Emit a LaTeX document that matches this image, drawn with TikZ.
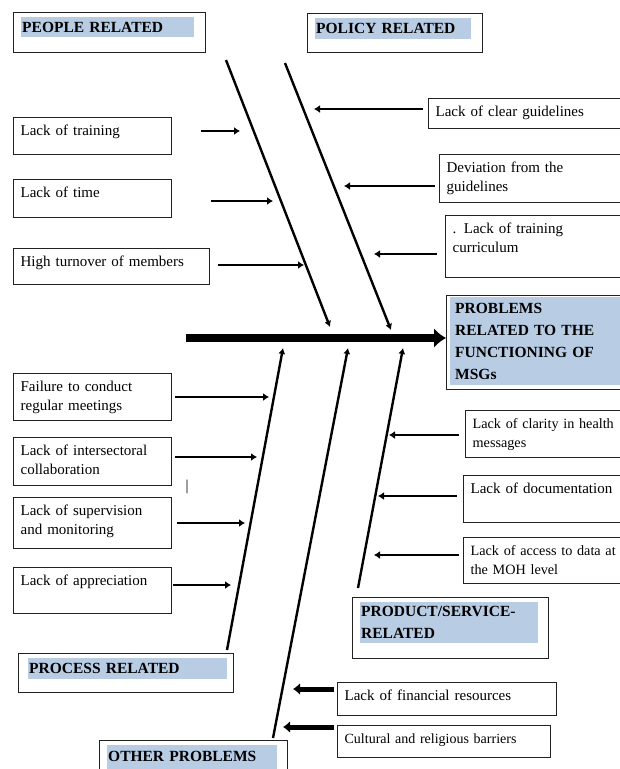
\documentclass[tikz,border=0pt]{standalone}
\usepackage{fontspec}
\setmainfont{Liberation Serif}
\usetikzlibrary{arrows.meta}
\usepackage{xcolor}
\definecolor{hlblue}{HTML}{B8CCE4}
\definecolor{edge}{HTML}{222222}
\newcommand{\causefont}{\fontsize{15}{19.5}\selectfont}
\newcommand{\narrowfont}{\fontsize{14.2}{19.5}\selectfont}
\newcommand{\titlefont}{\fontsize{15.5}{22}\selectfont\bfseries}

\begin{document}
\begin{tikzpicture}[x=1pt,y=-1pt]
		\tikzstyle{title} = [rectangle, draw=edge, line width=1.4pt, anchor=north west, inner sep=0pt]
		\tikzstyle{hl} = [rectangle, fill=hlblue, anchor=north west, align=left, inner xsep=1pt, inner ysep=0pt, font=\titlefont]
		\tikzstyle{cause} = [rectangle, draw=edge, line width=1.3pt, anchor=north west, align=left,
		inner xsep=7pt, inner ysep=7pt, text height=10.5pt, font=\causefont]
		\tikzstyle{arr} = [draw, line width=2.6pt, -{Latex[length=6pt, width=8pt]}]
		\tikzstyle{fatarr} = [draw, line width=5pt, -{Latex[length=7pt, width=12pt]}]
		\tikzstyle{bone} = [draw, line width=2.4pt, -{Latex[length=6pt, width=7pt]}]
		\tikzstyle{spine} = [draw, line width=8pt, -{Latex[length=12pt, width=20pt]}]
		
		\path[use as bounding box, fill=white] (0,0) rectangle (620,769);
		
		% Category titles
		\node [title, minimum width=192, minimum height=40] (people) at (13,12) {};
		\node [hl, text width=171, minimum height=20] (peopleTxt) at (21,17) {PEOPLE RELATED};
		
		\node [title, minimum width=175, minimum height=39] (policy) at (307,13) {};
		\node [hl, text width=154, minimum height=21] (policyTxt) at (315,18) {POLICY RELATED};
		
		\node [title, minimum width=196, minimum height=61] (product) at (352,597) {};
		\node [hl, text width=176, minimum height=41] (productTxt) at (360,602) {PRODUCT/SERVICE-\\RELATED};
		
		\node [title, minimum width=215, minimum height=39] (process) at (18,653) {};
		\node [hl, text width=197, minimum height=21] (processTxt) at (28,658) {PROCESS RELATED};
		
		\node [title, minimum width=188, minimum height=40] (other) at (99,740) {};
		\node [hl, text width=168, minimum height=27, text depth=5pt] (otherTxt) at (107,745) {OTHER PROBLEMS};
		
		% Effect
		\node [title, minimum width=204, minimum height=94] (effect) at (446,295) {};
		\node [hl, text width=185, inner xsep=5pt, minimum height=88] (effectTxt) at (450,297) {PROBLEMS\\RELATED TO THE\\FUNCTIONING OF\\MSGs};
		
		% Causes, left side
		\node [cause, text width=144, text depth=12.5] (training) at (13,117) {Lack of training};
		\node [cause, text width=144, text depth=13.5] (time) at (13,179) {Lack of time};
		\node [cause, text width=182, text depth=11.5] (turnover) at (13,248) {High turnover of members};
		\node [cause, text width=144, text depth=22.5] (meetings) at (13,373) {Failure to conduct\\regular meetings};
		\node [cause, text width=144, text depth=23.5] (intersect) at (13,437) {Lack of intersectoral\\collaboration};
		\node [cause, text width=144, text depth=26.5] (supervision) at (13,497) {Lack of supervision\\and monitoring};
		\node [cause, text width=144, text depth=21.5] (appreciation) at (13,567) {Lack of appreciation};
		\node [font=\causefont, inner sep=0pt] (stray) at (187,487) {|};
		
		% Causes, right side
		\node [cause, text width=208, text depth=5.5] (guidelines) at (428,98) {Lack of clear guidelines};
		\node [cause, text width=197, text depth=23.5] (deviation) at (439,154) {Deviation from the\\guidelines};
		\node [cause, text width=191, text depth=37.5] (curriculum) at (445,215) {. Lack of training\\curriculum};
		\node [cause, text width=171, text depth=22.5, font=\narrowfont] (clarity) at (465,410) {Lack of clarity in health\\messages};
		\node [cause, text width=173, text depth=22.5] (documentation) at (463,475) {Lack of documentation};
		\node [cause, text width=173, text depth=21.5, font=\narrowfont] (access) at (463,537) {Lack of access to data at\\the MOH level};
		\node [cause, text width=205, text depth=8.5] (financial) at (337,682) {Lack of financial resources};
		\node [cause, text width=199, text depth=7.5, font=\fontsize{14}{18}\selectfont] (cultural) at (337,725) {Cultural and religious barriers};
		
		% bones
		\coordinate (peopleA) at (226,60);   \coordinate (peopleB) at (330,327);
		\coordinate (policyA) at (285,63);   \coordinate (policyB) at (391,330);
		\coordinate (processA) at (227,650); \coordinate (processB) at (283,348);
		\coordinate (otherA) at (273,738);   \coordinate (otherB) at (348,348);
		\coordinate (productA) at (358,588); \coordinate (productB) at (403,348);
		\coordinate (tail) at (186,338);
		
		\draw [spine] (tail) -- (tail -| effect.west);
		\draw [bone] (peopleA) -- (peopleB);
		\draw [bone] (policyA) -- (policyB);
		\draw [bone] (processA) -- (processB);
		\draw [bone] (otherA) -- (otherB);
		\draw [bone] (productA) -- (productB);
		
		% arrows
		\coordinate (trainingTip) at (240,131);
		\coordinate (timeTip) at (273,201);
		\coordinate (turnoverTip) at (304,265);
		\coordinate (meetingsTip) at (269,397);
		\coordinate (intersectTip) at (257,457);
		\coordinate (supervisionTip) at (245,523);
		\coordinate (appreciationTip) at (231,585);
		\coordinate (guidelinesTip) at (314,109);
		\coordinate (deviationTip) at (344,186);
		\coordinate (curriculumTip) at (374,254);
		\coordinate (clarityTip) at (389,435);
		\coordinate (documentationTip) at (378,496);
		\coordinate (accessTip) at (374,555);
		\coordinate (financialTip) at (293,689);
		\coordinate (culturalTip) at (283,727);
		
		\draw [arr] ([xshift=29pt]training.east |- trainingTip) -- (trainingTip);
		\draw [arr] ([xshift=39pt]time.east |- timeTip) -- (timeTip);
		\draw [arr] ([xshift=8pt]turnover.east |- turnoverTip) -- (turnoverTip);
		\draw [arr] ([xshift=3pt]meetings.east |- meetingsTip) -- (meetingsTip);
		\draw [arr] ([xshift=3pt]intersect.east |- intersectTip) -- (intersectTip);
		\draw [arr] ([xshift=5pt]supervision.east |- supervisionTip) -- (supervisionTip);
		\draw [arr] ([xshift=1pt]appreciation.east |- appreciationTip) -- (appreciationTip);
		%
		\draw [arr] ([xshift=-5pt]guidelines.west |- guidelinesTip) -- (guidelinesTip);
		\draw [arr] ([xshift=-4pt]deviation.west |- deviationTip) -- (deviationTip);
		\draw [arr] ([xshift=-8pt]curriculum.west |- curriculumTip) -- (curriculumTip);
		\draw [arr] ([xshift=-6pt]clarity.west |- clarityTip) -- (clarityTip);
		\draw [arr] ([xshift=-6pt]documentation.west |- documentationTip) -- (documentationTip);
		\draw [arr] ([xshift=-4pt]access.west |- accessTip) -- (accessTip);
		\draw [fatarr] ([xshift=-3pt]financial.west |- financialTip) -- (financialTip);
		\draw [fatarr] ([xshift=-3pt]cultural.west |- culturalTip) -- (culturalTip);
		
	\end{tikzpicture}
\end{document}
